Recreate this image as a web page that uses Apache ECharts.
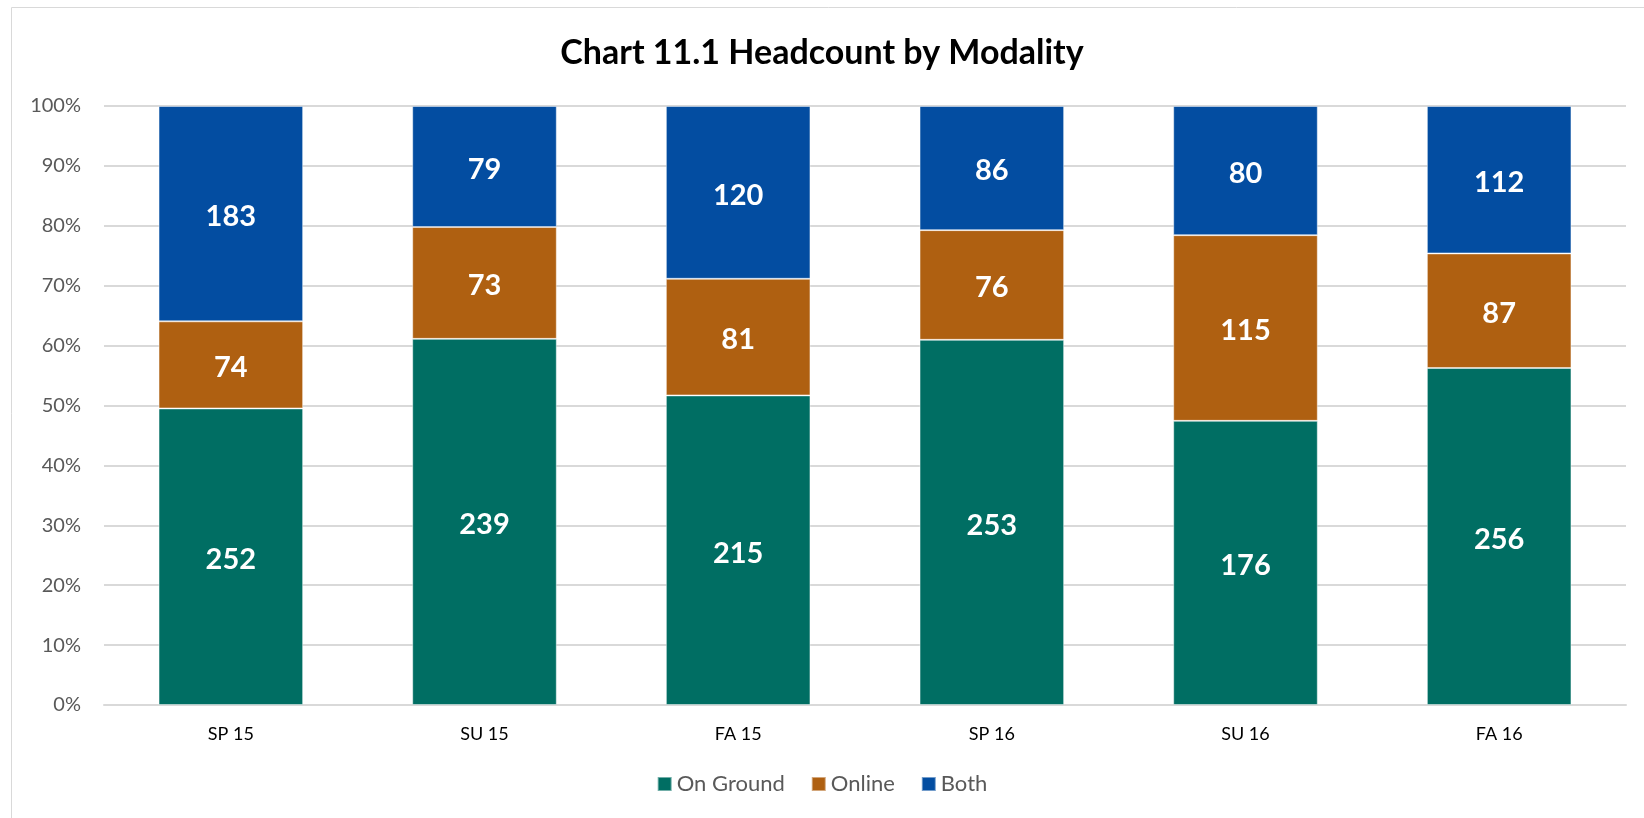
<!DOCTYPE html>
<html>
<head>
<meta charset="utf-8">
<title>Chart 11.1 Headcount by Modality</title>
<script src="https://cdn.jsdelivr.net/npm/echarts@6/dist/echarts.min.js"></script>
<style>
  html, body { margin: 0; padding: 0; background: #fff; }
  #chart { width: 1644px; height: 818px; }
</style>
</head>
<body>
<div id="chart"></div>
<script>
// 学期
const terms = ["SP 15", "SU 15", "FA 15", "SP 16", "SU 16", "FA 16"];
// 人数
const onGround = [252, 239, 215, 253, 176, 256];
const online = [74, 73, 81, 76, 115, 87];
const both = [183, 79, 120, 86, 80, 112];
const yTicks = [0, 10, 20, 30, 40, 50, 60, 70, 80, 90, 100];

const totals = terms.map((t, i) => onGround[i] + online[i] + both[i]);
const toPct = (arr) => arr.map((v, i) => (v / totals[i]) * 100);

const font = "Lato, 'Open Sans', sans-serif";

const makeSeries = (name, counts, color) => ({
  name: name,
  type: "bar",
  stack: "total",
  barCategoryGap: "43%",
  data: toPct(counts),
  itemStyle: {
    color: color,
    borderColor: "rgba(255,255,255,0.45)",
    borderWidth: 1,
  },
  label: {
    show: true,
    position: "inside",
    offset: [0, 3],
    color: "#fff",
    fontFamily: font,
    fontWeight: "bold",
    fontSize: 29,
    formatter: (p) => counts[p.dataIndex],
  },
  emphasis: { disabled: true },
});

const myChart = echarts.init(document.getElementById("chart"));
let option;
option = {
  animation: false,
  textStyle: { fontFamily: font },
  graphic: [
    {
      type: "rect",
      shape: { x: 11.5, y: 7.5, width: 1660, height: 830 },
      style: { fill: "none", stroke: "#d9d9d9", lineWidth: 1 },
      silent: true,
    },
  ],
  title: {
    text: "Chart 11.1 Headcount by Modality",
    left: "center",
    top: 31,
    textStyle: {
      fontFamily: font,
      fontWeight: "bold",
      fontSize: 34,
      color: "#000",
    },
  },
  legend: {
    data: ["On Ground", "Online", "Both"],
    bottom: 18,
    left: "center",
    itemWidth: 14,
    itemHeight: 14,
    itemGap: 26,
    icon: "rect",
    textStyle: { fontFamily: font, fontSize: 22, color: "#595959" },
  },
  grid: {
    left: 104,
    right: 18,
    top: 106,
    bottom: 113,
  },
  xAxis: {
    type: "category",
    data: terms,
    axisLine: { lineStyle: { color: "#d9d9d9", width: 2 } },
    axisTick: { show: false },
    axisLabel: {
      color: "#000",
      fontFamily: font,
      fontSize: 18,
      margin: 20,
    },
  },
  yAxis: {
    type: "value",
    min: yTicks[0],
    max: yTicks[yTicks.length - 1],
    interval: 10,
    axisLine: { show: false },
    axisTick: { show: false },
    splitLine: { lineStyle: { color: "#d9d9d9", width: 2 } },
    axisLabel: {
      formatter: "{value}%",
      color: "#595959",
      fontFamily: font,
      fontSize: 20,
      margin: 23,
    },
  },
  series: [
    makeSeries("On Ground", onGround, "#006e63"),
    makeSeries("Online", online, "#af6011"),
    makeSeries("Both", both, "#034da1"),
  ],
};
option && myChart.setOption(option);
</script>
</body>
</html>
